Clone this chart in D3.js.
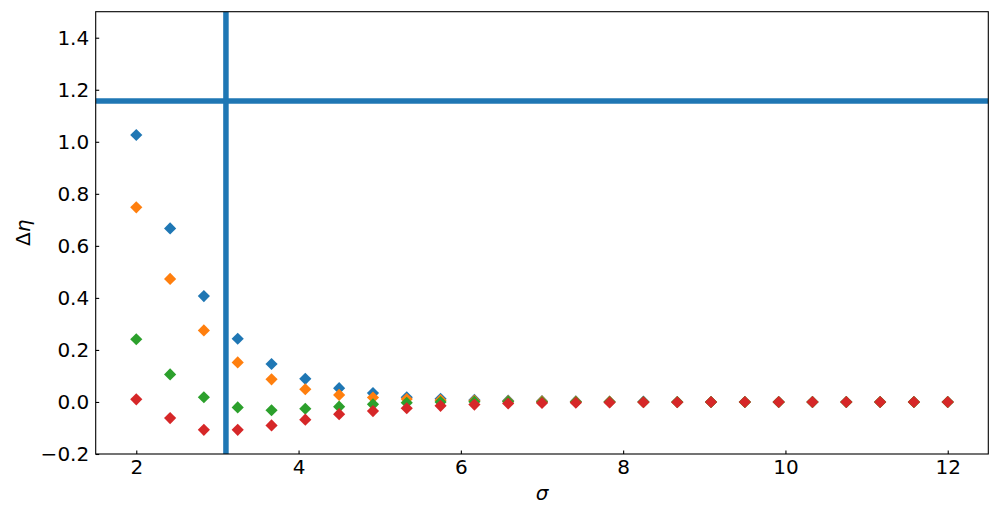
<!DOCTYPE html>
<html>
<head>
<meta charset="utf-8">
<script src="https://cdn.jsdelivr.net/npm/d3@7"></script>
<style>
  body { margin: 0; background: #fff; }
  svg { display: block; font-family: "DejaVu Sans", sans-serif; }
</style>
</head>
<body>
<svg id="chart" width="999" height="514"></svg>
<script>
// ---- data ----
const sigma = [2.000, 2.417, 2.833, 3.250, 3.667, 4.083, 4.500, 4.917, 5.333, 5.750,
               6.167, 6.583, 7.000, 7.417, 7.833, 8.250, 8.667, 9.083, 9.500, 9.917,
               10.333, 10.750, 11.167, 11.583, 12.000];
const seriesBlue   = [1.026, 0.667, 0.407, 0.243, 0.146, 0.089, 0.053, 0.034, 0.018, 0.012,
                      0.008, 0.005, 0.003, 0.002, 0.001, 0.001, 0.000, 0.000, 0.000, 0.000,
                      0.000, 0.000, 0.000, 0.000, 0.000];
const seriesOrange = [0.748, 0.473, 0.275, 0.152, 0.087, 0.049, 0.027, 0.017, 0.011, 0.007,
                      0.005, 0.003, 0.002, 0.001, 0.001, 0.000, 0.000, 0.000, 0.000, 0.000,
                      0.000, 0.000, 0.000, 0.000, 0.000];
const seriesGreen  = [0.241, 0.106, 0.018, -0.021, -0.032, -0.026, -0.018, -0.009, -0.003, 0.000,
                      0.001, 0.001, 0.000, 0.000, 0.000, 0.000, 0.000, 0.000, 0.000, 0.000,
                      0.000, 0.000, 0.000, 0.000, 0.000];
const seriesRed    = [0.010, -0.062, -0.107, -0.107, -0.090, -0.068, -0.047, -0.035, -0.024, -0.015,
                      -0.010, -0.006, -0.004, -0.003, -0.002, -0.001, -0.001, 0.000, 0.000, 0.000,
                      0.000, 0.000, 0.000, 0.000, 0.000];
const seriesList = [seriesBlue, seriesOrange, seriesGreen, seriesRed];
const colors = ["#1f77b4", "#ff7f0e", "#2ca02c", "#d62728"];
const vLineX = 3.105;
const hLineY = 1.157;
const xTicks = [2, 4, 6, 8, 10, 12];
const yTicks = [-0.2, 0.0, 0.2, 0.4, 0.6, 0.8, 1.0, 1.2, 1.4];

// ---- layout ----
const svg = d3.select("#chart");
const L = 95.7, R = 988.3, T = 11.7, B = 454;
const x = d3.scaleLinear().domain([1.5, 12.5]).range([L, R]);
const y = d3.scaleLinear().domain([-0.2, 1.5]).range([B, T]);
const FS = "20px";

const clipId = "plotclip";
svg.append("defs").append("clipPath").attr("id", clipId)
  .append("rect").attr("x", L).attr("y", T).attr("width", R - L).attr("height", B - T);

const plot = svg.append("g").attr("clip-path", `url(#${clipId})`);

// markers (diamonds)
const diamond = d3.symbol().type(d3.symbolSquare).size(8.6 * 8.6);
seriesList.forEach((vals, si) => {
  plot.append("g").selectAll("path")
    .data(vals.map((v, i) => [sigma[i], v]))
    .join("path")
    .attr("d", diamond)
    .attr("transform", d => `translate(${x(d[0])},${y(d[1])}) rotate(45)`)
    .attr("fill", colors[si]);
});

// reference lines
plot.append("line")
  .attr("x1", x(vLineX)).attr("x2", x(vLineX))
  .attr("y1", T).attr("y2", B)
  .attr("stroke", "#1f77b4").attr("stroke-width", 5.5);
plot.append("line")
  .attr("x1", L).attr("x2", R)
  .attr("y1", y(hLineY)).attr("y2", y(hLineY))
  .attr("stroke", "#1f77b4").attr("stroke-width", 5.5);

// axes
const xAxis = d3.axisBottom(x).tickValues(xTicks).tickSizeInner(-3.5).tickSizeOuter(0)
  .tickFormat(d3.format("d"));
const yAxis = d3.axisLeft(y).tickValues(yTicks).tickSizeInner(-3.5).tickSizeOuter(0)
  .tickFormat(d => d3.format(".1f")(d).replace("-", "\u2212"));

const gx = svg.append("g").attr("transform", `translate(0,${B})`).call(xAxis);
const gy = svg.append("g").attr("transform", `translate(${L},0)`).call(yAxis);
[gx, gy].forEach(g => {
  g.select(".domain").remove();
  g.selectAll(".tick line").attr("stroke", "#000").attr("stroke-width", 1.1);
  g.selectAll(".tick text").attr("fill", "#000").style("font-size", FS)
    .style("font-family", "'DejaVu Sans', sans-serif");
});
gx.selectAll(".tick text").attr("dy", "0.71em").attr("y", 6);
gy.selectAll(".tick text").attr("x", -6.5);

// frame
svg.append("rect").attr("x", L).attr("y", T).attr("width", R - L).attr("height", B - T)
  .attr("fill", "none").attr("stroke", "#000").attr("stroke-width", 1.1);

// axis labels
svg.append("text")
  .attr("x", (L + R) / 2).attr("y", 500)
  .attr("text-anchor", "middle")
  .style("font-size", FS).style("font-style", "italic")
  .text("σ");
svg.append("text")
  .attr("transform", `translate(30,${(T + B) / 2}) rotate(-90)`)
  .attr("text-anchor", "middle")
  .style("font-size", FS)
  .html('Δ<tspan font-style="italic">η</tspan>');
</script>
</body>
</html>
